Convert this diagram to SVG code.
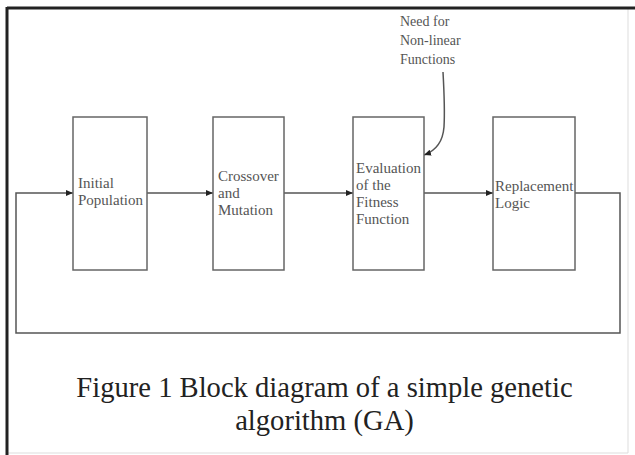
<svg xmlns="http://www.w3.org/2000/svg" width="635" height="455" viewBox="0 0 635 455">
<defs>
<marker id="ah" markerWidth="8" markerHeight="8" refX="7" refY="4" orient="auto" markerUnits="userSpaceOnUse">
<path d="M0,1 L7,4 L0,7 Z" fill="#222"/>
</marker>
</defs>
<style>
.box{fill:#fff;stroke:#666;stroke-width:1.5}
.lbl{font-family:"Liberation Serif","Times New Roman",serif;font-size:15px;fill:#555}
.note{font-family:"Liberation Serif","Times New Roman",serif;font-size:14px;fill:#555}
.cap{font-family:"Liberation Serif","Times New Roman",serif;font-size:28.6px;fill:#222;text-anchor:middle}
.con{fill:none;stroke:#555;stroke-width:1.5}
</style>
<rect x="0" y="0" width="635" height="455" fill="#fff"/>
<g id="frame">
<line x1="628" y1="8" x2="628" y2="453" stroke="#ddd" stroke-width="1"/>
<line x1="7" y1="453" x2="628" y2="453" stroke="#ddd" stroke-width="1"/>
<line x1="7" y1="8" x2="635" y2="8" stroke="#222" stroke-width="3"/>
<line x1="7" y1="7" x2="7" y2="455" stroke="#222" stroke-width="3"/>
</g>
<g id="connectors">
<line class="con" x1="147" y1="193" x2="213" y2="193" marker-end="url(#ah)"/>
<line class="con" x1="284" y1="193" x2="353" y2="193" marker-end="url(#ah)"/>
<line class="con" x1="424" y1="193" x2="493" y2="193" marker-end="url(#ah)"/>
<path class="con" d="M575,193 H620 V333 H16 V193 H73" marker-end="url(#ah)"/>
<path class="con" d="M443,72 C444,90 445,110 444,127 C443,140 438,150 424,155" marker-end="url(#ah)"/>
</g>
<g id="initial-population">
<rect class="box" x="73" y="117" width="74" height="153"/>
<text class="lbl" x="78" y="188">Initial</text>
<text class="lbl" x="78" y="205">Population</text>
</g>
<g id="crossover-mutation">
<rect class="box" x="213" y="117" width="71" height="153"/>
<text class="lbl" x="218" y="181">Crossover</text>
<text class="lbl" x="218" y="198">and</text>
<text class="lbl" x="218" y="215">Mutation</text>
</g>
<g id="evaluation">
<rect class="box" x="353" y="117" width="71" height="153"/>
<text class="lbl" x="356" y="173">Evaluation</text>
<text class="lbl" x="356" y="190">of the</text>
<text class="lbl" x="356" y="207">Fitness</text>
<text class="lbl" x="356" y="224">Function</text>
</g>
<g id="replacement">
<rect class="box" x="493" y="117" width="82" height="153"/>
<text class="lbl" x="495" y="191">Replacement</text>
<text class="lbl" x="495" y="208">Logic</text>
</g>
<g id="need-note">
<text class="note" x="400" y="26">Need for</text>
<text class="note" x="400" y="45">Non-linear</text>
<text class="note" x="400" y="64">Functions</text>
</g>
<g id="caption">
<text class="cap" x="324.5" y="397">Figure 1 Block diagram of a simple genetic</text>
<text class="cap" x="324.5" y="430">algorithm (GA)</text>
</g>
</svg>
